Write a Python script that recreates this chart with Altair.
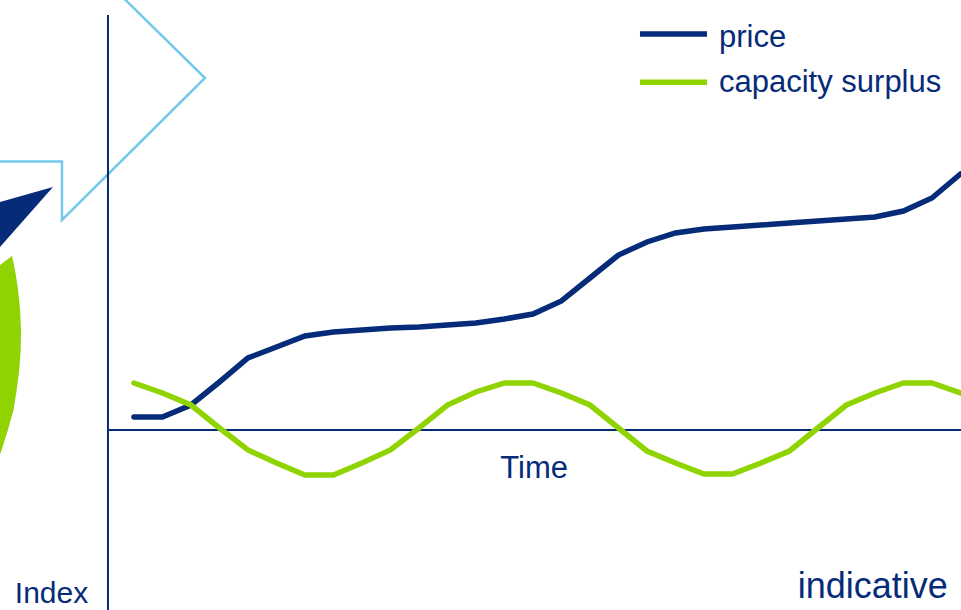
import altair as alt
import pandas as pd

NAVY = "#062b78"
GREEN = "#8fd400"
LIGHTBLUE = "#74c8ec"
FONT = "Liberation Sans"

# --- chart data ---
t = list(range(30))
price = [1.3, 1.3, 2.5, 4.8, 7.2, 8.3, 9.4, 9.8, 10.0, 10.2, 10.3, 10.5, 10.7, 11.1, 11.6,
         12.9, 15.2, 17.5, 18.8, 19.7, 20.1, 20.3, 20.5, 20.7, 20.9, 21.1, 21.3, 21.9, 23.2, 25.6]
surplus = [4.7, 3.7, 2.5, 0.2, -2.0, -3.3, -4.5, -4.5, -3.3, -2.0, 0.2, 2.5, 3.8, 4.7, 4.7,
           3.7, 2.5, 0.2, -2.1, -3.3, -4.4, -4.4, -3.3, -2.1, 0.2, 2.5, 3.7, 4.7, 4.7, 3.7]
series = ["price", "capacity surplus"]

# --- legend placement (data units) ---
leg_x1 = 17.756
leg_x2 = 20.107
leg_line_y = [39.6, 34.77]
leg_text_x = 20.528
leg_text_y = [38.33, 33.83]

# --- decorative shapes (data units) ---
arrow_x = [-1.367, 2.493, -2.525, -2.525, -5.226]
arrow_y = [46.0, 35.2, 21.0, 26.85, 26.85]

tri_x = [-5.051, -2.840]
tri_top = [22.52, 24.3]
tri_bot = [17.17, 24.3]

arc_y = [17.4, 16.5, 15.7, 14.0, 12.0, 10.0, 8.0, 6.0, 4.0, 2.0, 0.0, -2.0, -3.5]
arc_right = [-4.279, -4.211, -4.156, -4.065, -3.995, -3.963, -3.974, -4.025, -4.114, -4.226, -4.423, -4.644, -4.840]
arc_left = [-4.279, -4.7, -5.051, -5.051, -5.051, -5.051, -5.051, -5.051, -5.051, -5.051, -5.051, -5.051, -5.051]

# axis lines (data units)
yaxis_x = -0.911
yaxis_top = 41.5
yaxis_bottom = -18.5
xaxis_right = 29.1

labels = ["Time", "Index", "indicative"]
label_x = [14.04, -2.893, 28.56]
label_y = [-4.8, -17.3, -16.8]

xs = alt.Scale(domain=[-4.7, 29.02], nice=False, zero=False)
ys = alt.Scale(domain=[-18, 43], nice=False, zero=False)
cs = alt.Scale(domain=series, range=[NAVY, GREEN])

df = pd.DataFrame({
    "t": t * 2,
    "value": price + surplus,
    "series": [series[0]] * len(t) + [series[1]] * len(t),
})

leg_df = pd.DataFrame({
    "series": series,
    "x1": [leg_x1] * 2, "x2": [leg_x2] * 2, "ly": leg_line_y,
    "tx": [leg_text_x] * 2, "ty": leg_text_y,
})

arrow_df = pd.DataFrame({"x": arrow_x, "y": arrow_y, "o": list(range(len(arrow_x)))})
tri_df = pd.DataFrame({"x": tri_x, "y": tri_top, "y2": tri_bot})
arc_df = pd.DataFrame({"y": arc_y, "x": arc_right, "x2": arc_left})
axis_df = pd.DataFrame({"x": [yaxis_x], "ytop": [yaxis_top], "ybot": [yaxis_bottom],
                        "xr": [xaxis_right], "y0": [0.0]})
text_df = pd.DataFrame({"label": labels, "x": label_x, "y": label_y})

arrow = alt.Chart(arrow_df).mark_line(color=LIGHTBLUE, strokeWidth=2.5, clip=True).encode(
    x=alt.X("x:Q", scale=xs, axis=None),
    y=alt.Y("y:Q", scale=ys, axis=None),
    order="o:Q",
)

tri = alt.Chart(tri_df).mark_area(color=NAVY, opacity=1, clip=True).encode(
    x=alt.X("x:Q", scale=xs, axis=None),
    y=alt.Y("y:Q", scale=ys, axis=None),
    y2="y2:Q",
)

arc = alt.Chart(arc_df).mark_area(color=GREEN, opacity=1, orient="horizontal", clip=True).encode(
    y=alt.Y("y:Q", scale=ys, axis=None),
    x=alt.X("x:Q", scale=xs, axis=None),
    x2="x2:Q",
)

vrule = alt.Chart(axis_df).mark_rule(color=NAVY, strokeWidth=2).encode(
    x=alt.X("x:Q", scale=xs, axis=None),
    y=alt.Y("ytop:Q", scale=ys, axis=None),
    y2="ybot:Q",
)
hrule = alt.Chart(axis_df).mark_rule(color=NAVY, strokeWidth=2).encode(
    x=alt.X("x:Q", scale=xs, axis=None),
    x2="xr:Q",
    y=alt.Y("y0:Q", scale=ys, axis=None),
)

lines = alt.Chart(df).mark_line(strokeWidth=5.5, strokeCap="round", clip=True).encode(
    x=alt.X("t:Q", scale=xs, axis=None),
    y=alt.Y("value:Q", scale=ys, axis=None),
    color=alt.Color("series:N", scale=cs, legend=None),
    detail="series:N",
)

leg_lines = alt.Chart(leg_df).mark_rule(strokeWidth=5.5).encode(
    x=alt.X("x1:Q", scale=xs, axis=None),
    x2="x2:Q",
    y=alt.Y("ly:Q", scale=ys, axis=None),
    color=alt.Color("series:N", scale=cs, legend=None),
)
leg_text = alt.Chart(leg_df).mark_text(font=FONT, fontSize=31, color=NAVY, align="left",
                                       baseline="alphabetic").encode(
    x=alt.X("tx:Q", scale=xs, axis=None),
    y=alt.Y("ty:Q", scale=ys, axis=None),
    text="series:N",
)

def txt(i, size, align):
    d = text_df.iloc[[i]]
    return alt.Chart(d).mark_text(font=FONT, fontSize=size, color=NAVY, align=align,
                                  baseline="alphabetic").encode(
        x=alt.X("x:Q", scale=xs, axis=None),
        y=alt.Y("y:Q", scale=ys, axis=None),
        text="label:N",
    )

chart = alt.layer(
    arrow, tri, arc, vrule, hrule, lines, leg_lines, leg_text,
    txt(0, 31, "center"), txt(1, 30, "center"), txt(2, 36, "right"),
).properties(
    width=961, height=610, padding=0, autosize=alt.AutoSizeParams(type="none"),
).configure_view(stroke=None)

chart.save("out.html", embed_options={"renderer": "svg", "actions": False})
